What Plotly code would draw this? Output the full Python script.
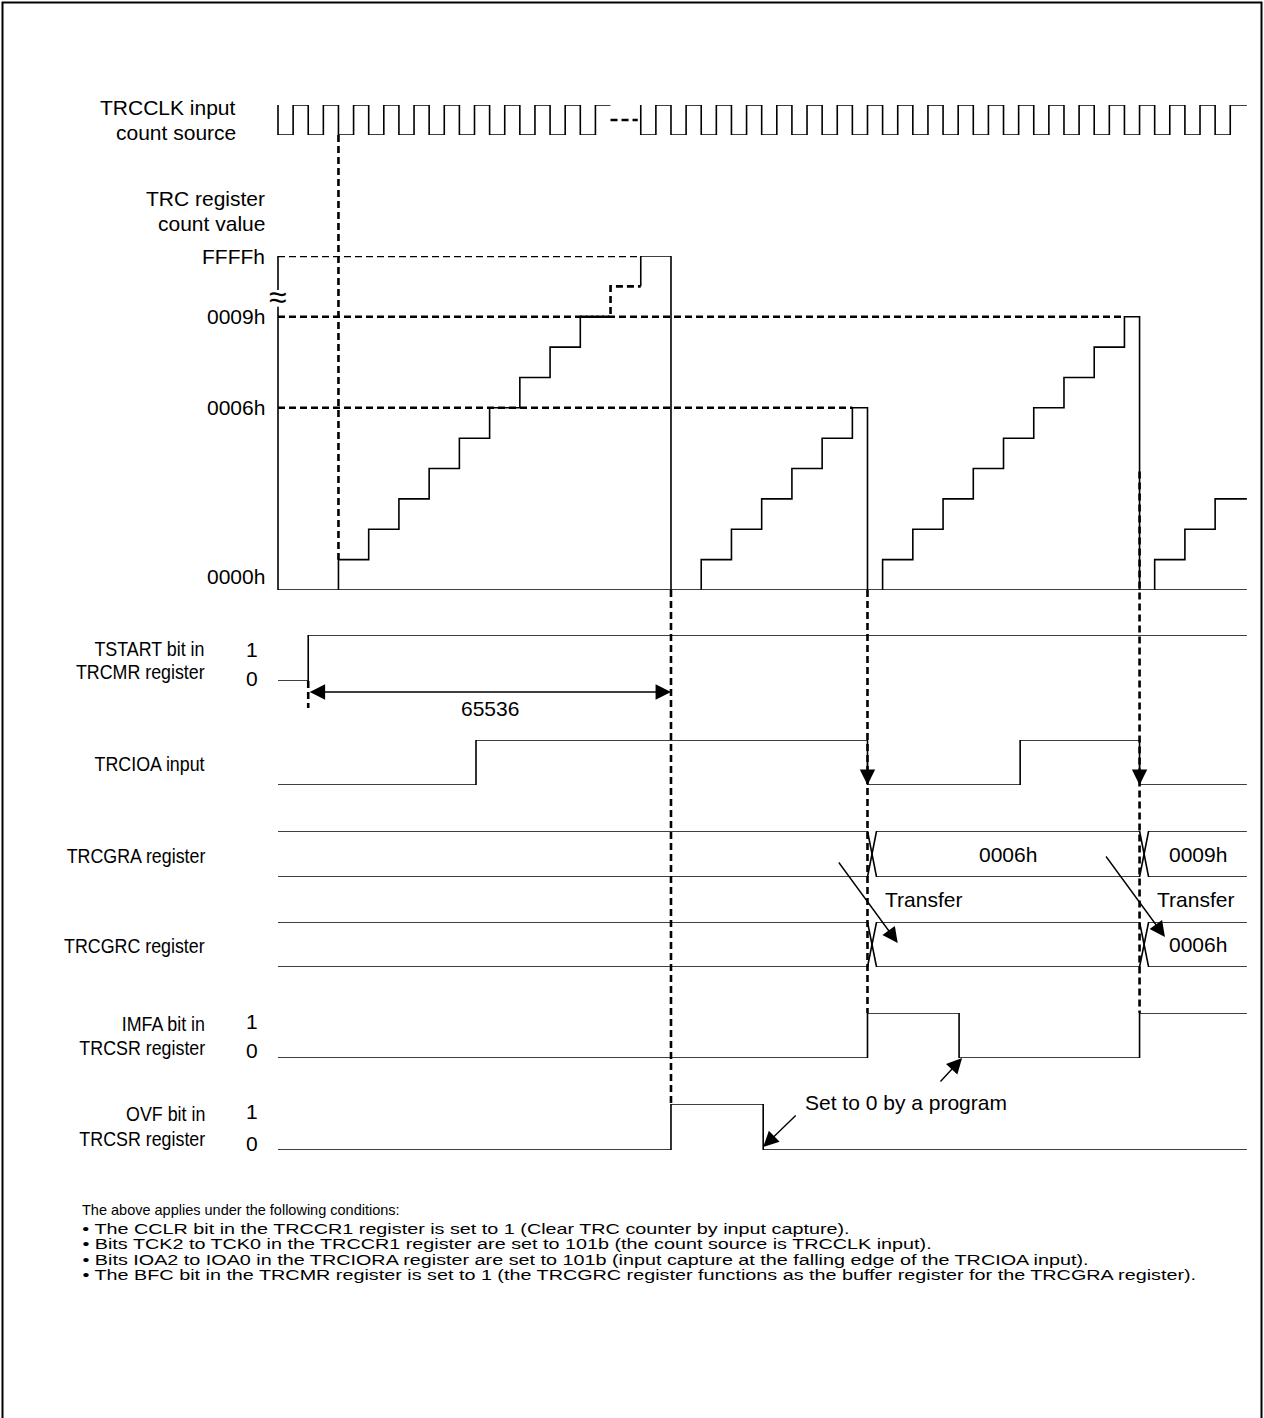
import plotly.graph_objects as go

W, H = 1264, 1418
X0_PX = 278.0        # pixel position of t = 0 (first falling edge of TRCCLK)
PX_PER_CLK = 30.23   # pixel width of one count-source period
T_END = 32.05
FONT = "Arial, Liberation Sans, sans-serif"
LW = 1.6
DW = 2.6
DASH = "7px,4px"

# ---------------- data (t in count-source periods) ----------------
CLK_A_T = [0, 0, 0.5, 1, 1.5, 2, 2.5, 3, 3.5, 4, 4.5, 5, 5.5, 6, 6.5, 7, 7.5, 8, 8.5, 9, 9.5, 10, 10.5, 11]
CLK_A_V = [1, 0, 1, 0, 1, 0, 1, 0, 1, 0, 1, 0, 1, 0, 1, 0, 1, 0, 1, 0, 1, 0, 1, 1]
CLK_GAP_T = [11, 11.9]
CLK_GAP_V = [0.5, 0.5]
CLK_B_T = [12, 12, 12.5, 13, 13.5, 14, 14.5, 15, 15.5, 16, 16.5, 17, 17.5, 18, 18.5, 19, 19.5, 20, 20.5,
           21, 21.5, 22, 22.5, 23, 23.5, 24, 24.5, 25, 25.5, 26, 26.5, 27, 27.5, 28, 28.5, 29, 29.5,
           30, 30.5, 31, 31.5, 32.05]
CLK_B_V = [1, 0, 1, 0, 1, 0, 1, 0, 1, 0, 1, 0, 1, 0, 1, 0, 1, 0, 1,
           0, 1, 0, 1, 0, 1, 0, 1, 0, 1, 0, 1, 0, 1, 0, 1, 0, 1,
           0, 1, 0, 1, 1]

# TRC counter (level 10 = value just below FFFFh, level 11 = FFFFh)
CNT_TICK_V = [0, 6, 9, 11]
CNT_TICK_TXT = ["0000h", "0006h", "0009h", "FFFFh"]
CNT1_T = [2, 2, 3, 4, 5, 6, 7, 8, 9, 10]
CNT1_V = [0, 1, 2, 3, 4, 5, 6, 7, 8, 9]
CNT1_GAP_T = [10, 11, 12]
CNT1_GAP_V = [9, 10, 10]
CNT1_END_T = [12, 12, 13, 13]
CNT1_END_V = [10, 11, 11, 0]
CNT2_T = [14, 14, 15, 16, 17, 18, 19, 19.5]
CNT2_V = [0, 1, 2, 3, 4, 5, 6, 0]
CNT3_T = [20, 20, 21, 22, 23, 24, 25, 26, 27, 28, 28.5]
CNT3_V = [0, 1, 2, 3, 4, 5, 6, 7, 8, 9, 0]
CNT4_T = [29, 29, 30, 31, 32.05]
CNT4_V = [0, 1, 2, 3, 3]
REF_LEVELS = [11, 9, 6]
REF_END_T = [12, 28, 19]

TSTART_T = [0, 1, 32.05]
TSTART_V = [0, 1, 1]
TRCIOA_T = [0, 6.55, 19.5, 24.55, 28.5, 32.05]
TRCIOA_V = [0, 1, 0, 1, 0, 0]
CAPTURE_T = [19.5, 28.5]
GRA_VALUES = ["0006h", "0009h"]
GRC_VALUES = ["", "0006h"]
IMFA_T = [0, 19.5, 22.53, 28.5, 32.05]
IMFA_V = [0, 1, 0, 1, 1]
OVF_T = [0, 13, 16.05, 32.05]
OVF_V = [0, 1, 0, 0]
FIRST_COUNT_T = 2
OVERFLOW_T = 13
START_T = 1
DIM_TEXT = "65536"

NOTES = [
    "The above applies under the following conditions:",
    "\u2022 The CCLR bit in the TRCCR1 register is set to 1 (Clear TRC counter by input capture).",
    "\u2022 Bits TCK2 to TCK0 in the TRCCR1 register are set to 101b (the count source is TRCCLK input).",
    "\u2022 Bits IOA2 to IOA0 in the TRCIORA register are set to 101b (input capture at the falling edge of the TRCIOA input).",
    "\u2022 The BFC bit in the TRCMR register is set to 1 (the TRCGRC register functions as the buffer register for the TRCGRA register).",
]

# ---------------- layout geometry (pixel of level 0, pixel of top level, top level) -------------
LANES = {
    "clk": ("y2", 135, 105, 1),
    "cnt": ("y3", 590, 256, 11),
    "tstart": ("y4", 681, 635, 1),
    "ioa": ("y5", 785, 740, 1),
    "gra": ("y6", 877, 831, 1),
    "grc": ("y7", 967, 922, 1),
    "imfa": ("y8", 1058, 1013, 1),
    "ovf": ("y9", 1150, 1104, 1),
}


def pix(lane, v):
    _, p0, p1, top = LANES[lane]
    return p0 + (p1 - p0) * v / top


fig = go.Figure()


def wave(t, v, lane, dash=None, shape="hv", width=LW):
    fig.add_trace(go.Scatter(x=t, y=v, mode="lines", yaxis=LANES[lane][0],
                             line=dict(color="black", width=width, shape=shape, dash=dash),
                             hoverinfo="skip", showlegend=False))


# clock
wave(CLK_A_T, CLK_A_V, "clk")
wave(CLK_GAP_T, CLK_GAP_V, "clk", dash=DASH, shape="linear", width=DW)
wave(CLK_B_T, CLK_B_V, "clk")

# counter axis + baseline
wave([0, 0, None, 0, 0], [0, 9.33, None, 9.88, 11.4], "cnt", shape="linear")
wave([0, T_END], [0, 0], "cnt", shape="linear")
for lev, te in zip(REF_LEVELS, REF_END_T):
    wave([0, te], [lev, lev], "cnt", dash=DASH, shape="linear", width=DW)
wave(CNT1_T, CNT1_V, "cnt")
wave(CNT1_GAP_T, CNT1_GAP_V, "cnt", dash=DASH, width=DW)
wave(CNT1_END_T, CNT1_END_V, "cnt")
wave(CNT2_T, CNT2_V, "cnt")
wave(CNT3_T, CNT3_V, "cnt")
wave(CNT4_T, CNT4_V, "cnt")

# single-bit lanes
wave(TSTART_T, TSTART_V, "tstart")
wave(TRCIOA_T, TRCIOA_V, "ioa")
wave(IMFA_T, IMFA_V, "imfa")
wave(OVF_T, OVF_V, "ovf")

# bus lanes with crossovers
XW = 0.3
for lane in ("gra", "grc"):
    a_t, a_v, b_t, b_v, lev = [0], [1], [0], [0], 1
    for c in CAPTURE_T:
        a_t += [c, c + XW]
        a_v += [lev, 1 - lev]
        b_t += [c, c + XW]
        b_v += [1 - lev, lev]
        lev = 1 - lev
    a_t.append(T_END); a_v.append(lev)
    b_t.append(T_END); b_v.append(1 - lev)
    wave(a_t, a_v, lane, shape="linear")
    wave(b_t, b_v, lane, shape="linear")

# ---------------- shapes ----------------
shapes = []


def vdash(t, y0, y1):
    shapes.append(dict(type="line", xref="x", yref="y", x0=t, x1=t, y0=y0, y1=y1,
                       line=dict(color="black", width=DW, dash=DASH)))


vdash(FIRST_COUNT_T, pix("clk", 0), pix("cnt", 1))
vdash(OVERFLOW_T, pix("cnt", 0), pix("ovf", 1))
vdash(CAPTURE_T[0], pix("cnt", 0), pix("imfa", 1))
vdash(CAPTURE_T[1], pix("cnt", 3.9), pix("imfa", 1))
vdash(START_T, pix("tstart", 0), pix("tstart", 0) + 27)
shapes.append(dict(type="rect", xref="paper", yref="paper", x0=2.5 / W, x1=1261.5 / W,
                   y0=-0.02, y1=1 - 2.5 / H, line=dict(color="black", width=2), fillcolor="rgba(0,0,0,0)"))

# ---------------- annotations ----------------
ann = []
ARR = dict(showarrow=True, arrowhead=2, arrowsize=2.2, arrowwidth=1.4, arrowcolor="black")


def txt(s, x_px, y_px, xanchor="right", size=21):
    ann.append(dict(text=s, x=x_px / W, xref="paper", y=y_px, yref="y", xanchor=xanchor,
                    yanchor="middle", showarrow=False, font=dict(family=FONT, size=size, color="black")))


TOP_LABELS = [
    ("TRCCLK input", 238, 107), ("count source", 238, 132),
    ("TRC register", 267, 198), ("count value", 267, 223),
]
LANE_LABELS = [
    ("TSTART bit in", 207, 648), ("TRCMR register", 207, 671),
    ("TRCIOA input", 207, 763),
    ("TRCGRA register", 207, 855),
    ("TRCGRC register", 207, 945),
    ("IMFA bit in", 207, 1023), ("TRCSR register", 207, 1047),
    ("OVF bit in", 207, 1113), ("TRCSR register", 207, 1138),
]
for s, x, y in TOP_LABELS:
    txt(s, x, y)
for s, x, y in LANE_LABELS:
    txt(s, x, y)
for lane, y1, y0 in (("tstart", 649, 678), ("imfa", 1021, 1050), ("ovf", 1111, 1143)):
    txt("1", 252, y1, xanchor="center")
    txt("0", 252, y0, xanchor="center")

# counter tick labels
for v, s in zip(CNT_TICK_V, CNT_TICK_TXT):
    ypx = pix("cnt", v) if v > 0 else pix("cnt", 0) - 14
    txt(s, 267, ypx)
# axis break mark
ann.append(dict(text="\u2248", x=0, xref="x", y=297, yref="y", showarrow=False,
                font=dict(family=FONT, size=32, color="black"), xanchor="center", yanchor="middle"))

# dimension arrow 65536
dim_y = pix("tstart", 0) + 11
ann.append(dict(text="", x=OVERFLOW_T, y=dim_y, xref="x", yref="y", ax=START_T, ay=dim_y,
                axref="x", ayref="y", startarrowhead=2, arrowside="end+start", startarrowsize=2.2, **ARR))
ann.append(dict(text=DIM_TEXT, x=(START_T + OVERFLOW_T) / 2, xref="x", y=dim_y + 16, yref="y",
                showarrow=False, font=dict(family=FONT, size=21, color="black")))

# capture arrows on TRCIOA
for c in CAPTURE_T:
    ann.append(dict(text="", x=c, y=pix("ioa", 0), xref="x", yref="y", ax=0, ay=-24, **ARR))

# bus values
for lane, vals in (("gra", GRA_VALUES), ("grc", GRC_VALUES)):
    starts = [c + XW for c in CAPTURE_T]
    ends = CAPTURE_T[1:] + [T_END]
    for s, a, b in zip(vals, starts, ends):
        if s:
            ann.append(dict(text=s, x=(a + b) / 2, xref="x", y=pix(lane, 0.5), yref="y",
                            showarrow=False, font=dict(family=FONT, size=21, color="black")))

# transfer arrows
for c, dt_tip, y_tip in ((CAPTURE_T[0], 1.0, 943), (CAPTURE_T[1], 0.84, 937)):
    ann.append(dict(text="", x=c + dt_tip, y=y_tip, xref="x", yref="y", ax=-60, ay=-82, **ARR))
    ann.append(dict(text="Transfer", x=c + 0.5, xref="x", y=899, yref="y", xanchor="left",
                    showarrow=False, font=dict(family=FONT, size=21, color="black")))

# "Set to 0 by a program"
ann.append(dict(text="Set to 0 by a program", x=803 / W, xref="paper", y=1102, yref="y", xanchor="left",
                showarrow=False, font=dict(family=FONT, size=21, color="black")))
ann.append(dict(text="", x=OVF_T[2], y=pix("ovf", 0) - 3, xref="x", yref="y", ax=34, ay=-33, **ARR))
ann.append(dict(text="", x=IMFA_T[2] + 0.1, y=pix("imfa", 0), xref="x", yref="y", ax=-23, ay=25, **ARR))

# notes
for s, y in zip(NOTES, [1210, 1229, 1244, 1260, 1275]):
    txt(s, 80, y, xanchor="left", size=14.5)

# ---------------- axes ----------------
layout_axes = dict(
    xaxis=dict(range=[-X0_PX / PX_PER_CLK, (W - X0_PX) / PX_PER_CLK], domain=[0, 1], visible=False,
               fixedrange=True, anchor="y"),
    yaxis=dict(range=[H, 0], domain=[0, 1], visible=False, fixedrange=True, anchor="x"),
)
for lane, (ax_id, p0, p1, top) in LANES.items():
    layout_axes["yaxis" + ax_id[1:]] = dict(range=[0, top], domain=[1 - p0 / H, 1 - p1 / H],
                                            visible=False, fixedrange=True, anchor="x")

fig.update_layout(width=W, height=H, margin=dict(l=0, r=0, t=0, b=0), paper_bgcolor="white",
                  plot_bgcolor="white", showlegend=False, shapes=shapes, annotations=ann,
                  **layout_axes)

# the original sets the bullet notes in a horizontally widened face and the
# lane names in a horizontally condensed face
NARROW = [s for s, _, _ in LANE_LABELS]
POST = """
document.body.style.margin='0';
document.body.style.overflow='hidden';
var narrow = %s;
var gd = document.getElementById('{plot_id}');
gd.querySelectorAll('text.annotation-text').forEach(function(el){
  var s = el.textContent;
  if (s.charAt(0) === '\\u2022') {
    el.style.transformBox = 'fill-box';
    el.style.transformOrigin = 'left center';
    el.style.transform = 'scaleX(1.365)';
  } else if (narrow.indexOf(s) >= 0) {
    el.style.transformBox = 'fill-box';
    el.style.transformOrigin = 'right center';
    el.style.transform = 'scaleX(0.85)';
  }
});
""" % str(NARROW).replace("'", '"')
fig.write_html("out.html", config={"displayModeBar": False, "staticPlot": True}, post_script=POST)
